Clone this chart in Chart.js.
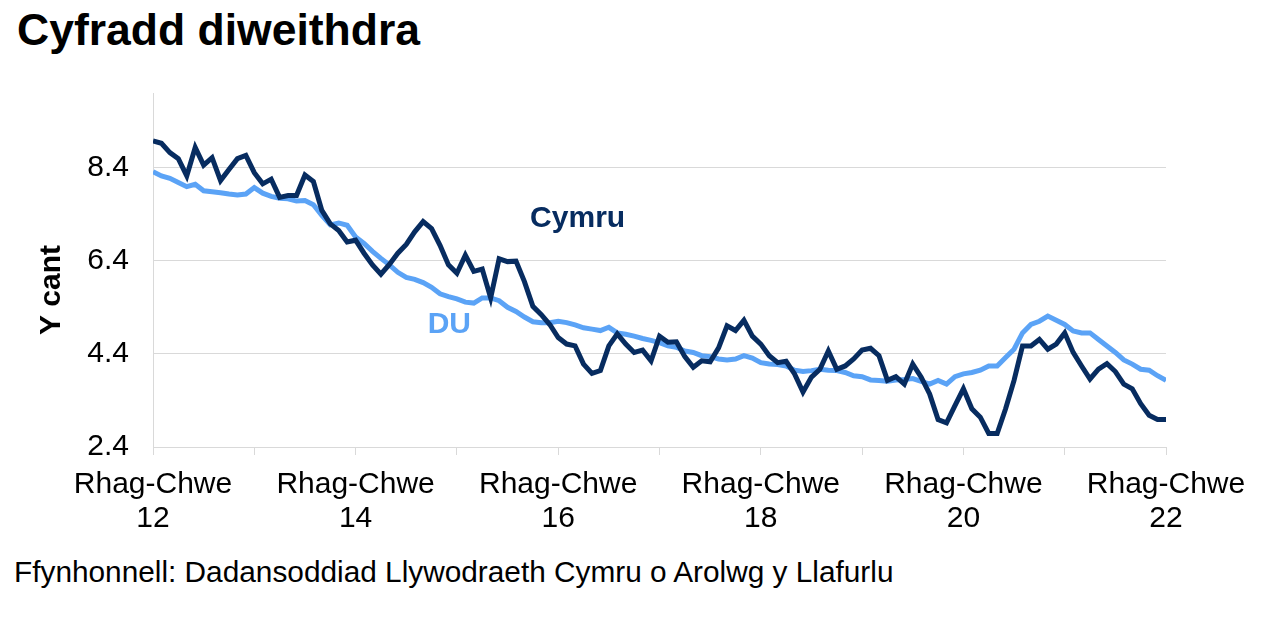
<!DOCTYPE html>
<html>
<head>
<meta charset="utf-8">
<script src="https://cdn.jsdelivr.net/npm/chart.js@4"></script>
<style>
    body { margin: 0; background: #ffffff; width: 1262px; height: 617px; overflow: hidden; position: relative; font-family: "Liberation Sans", Arial, sans-serif; }
    #title { position: absolute; left: 17px; top: 8px; font-size: 44.5px; line-height: 44px; font-weight: bold; color: #000; }
    #source { position: absolute; left: 14px; top: 557px; font-size: 29.8px; line-height: 29px; color: #000; }
    #chart { position: absolute; left: 0; top: 51px; }
</style>
</head>
<body>
<div id="title">Cyfradd diweithdra</div>
<canvas id="chart" width="1262" height="499"></canvas>
<div id="source">Ffynhonnell: Dadansoddiad Llywodraeth Cymru o Arolwg y Llafurlu</div>

<script>
// Rolling 3-month periods, Rhag-Chwe 12 .. Rhag-Chwe 22 (121 points)
const periodName = 'Rhag-Chwe';
const yearLabels = ['12', '14', '16', '18', '20', '22'];
const yTicks = [2.4, 4.4, 6.4, 8.4];

// Unemployment rate, Wales
const cymru = [
    8.97, 8.92, 8.72, 8.59, 8.22, 8.83, 8.45, 8.61, 8.12, 8.36, 8.59, 8.66,
    8.29, 8.05, 8.15, 7.76, 7.80, 7.80, 8.24, 8.10, 7.48, 7.19, 7.05, 6.80,
    6.84, 6.56, 6.31, 6.11, 6.32, 6.56, 6.75, 7.02, 7.24, 7.09, 6.73, 6.31,
    6.13, 6.52, 6.17, 6.22, 5.60, 6.44, 6.38, 6.39, 5.95, 5.42, 5.24, 5.03,
    4.75, 4.61, 4.57, 4.18, 3.98, 4.04, 4.57, 4.83, 4.61, 4.43, 4.48, 4.25,
    4.78, 4.65, 4.66, 4.34, 4.11, 4.25, 4.23, 4.53, 5.00, 4.90, 5.12, 4.78,
    4.61, 4.36, 4.21, 4.24, 3.97, 3.58, 3.90, 4.07, 4.46, 4.07, 4.14, 4.29,
    4.48, 4.52, 4.36, 3.83, 3.91, 3.75, 4.18, 3.90, 3.54, 2.99, 2.92, 3.29,
    3.65, 3.22, 3.04, 2.69, 2.69, 3.22, 3.83, 4.57, 4.57, 4.71, 4.50, 4.61,
    4.85, 4.43, 4.14, 3.86, 4.07, 4.19, 4.02, 3.75, 3.65, 3.33, 3.08, 2.99,
    2.99
];

// Unemployment rate, UK
const du = [
    8.31, 8.22, 8.17, 8.08, 7.99, 8.04, 7.90, 7.88, 7.86, 7.83, 7.81, 7.83,
    7.97, 7.85, 7.78, 7.74, 7.73, 7.68, 7.69, 7.60, 7.37, 7.17, 7.21, 7.16,
    6.91, 6.77, 6.60, 6.45, 6.31, 6.15, 6.04, 6.00, 5.93, 5.83, 5.69, 5.63,
    5.58, 5.51, 5.49, 5.60, 5.60, 5.54, 5.40, 5.31, 5.19, 5.09, 5.07, 5.07,
    5.10, 5.07, 5.02, 4.96, 4.93, 4.90, 4.97, 4.85, 4.82, 4.78, 4.73, 4.69,
    4.64, 4.57, 4.54, 4.46, 4.43, 4.36, 4.34, 4.29, 4.27, 4.29, 4.36, 4.31,
    4.21, 4.18, 4.17, 4.14, 4.05, 4.02, 4.04, 4.07, 4.05, 4.04, 4.00, 3.93,
    3.91, 3.84, 3.83, 3.81, 3.84, 3.85, 3.87, 3.81, 3.75, 3.83, 3.75, 3.91,
    3.97, 4.00, 4.05, 4.14, 4.14, 4.32, 4.50, 4.85, 5.03, 5.10, 5.21, 5.12,
    5.03, 4.89, 4.85, 4.85, 4.71, 4.57, 4.43, 4.27, 4.18, 4.07, 4.05, 3.93,
    3.83
];

const cymruColor = '#072C60';
const duColor = '#5BA3F6';
const gridColor = '#D9D9D9';
const fontFamily = '"Liberation Sans", Arial, sans-serif';

// Series labels placed on the plot (x = period index, y = value)
const seriesLabels = [
    { text: 'Cymru', x: 50.3, y: 7.30, color: cymruColor },
    { text: 'DU', x: 35.1, y: 5.03, color: duColor }
];

// Draws the rotated y-axis title and the in-chart series labels
const extraText = {
    id: 'extraText',
    afterDraw(chart) {
        const ctx = chart.ctx;
        const xs = chart.scales.x;
        const ys = chart.scales.y;
        ctx.save();
        ctx.font = 'bold 30px ' + fontFamily;
        ctx.textAlign = 'center';
        ctx.textBaseline = 'middle';
        seriesLabels.forEach(l => {
            ctx.fillStyle = l.color;
            ctx.fillText(l.text, xs.getPixelForValue(l.x), ys.getPixelForValue(l.y));
        });
        ctx.translate(52, 239);
        ctx.rotate(-Math.PI / 2);
        ctx.fillStyle = '#000';
        ctx.fillText('Y cant', 0, 0);
        ctx.restore();
    }
};

new Chart(document.getElementById('chart'), {
    type: 'line',
    data: {
        datasets: [
            {
                label: 'Cymru',
                data: cymru.map((v, i) => ({ x: i, y: v })),
                borderColor: cymruColor,
                borderWidth: 5,
                pointRadius: 0,
                tension: 0,
                fill: false
            },
            {
                label: 'DU',
                data: du.map((v, i) => ({ x: i, y: v })),
                borderColor: duColor,
                borderWidth: 5,
                pointRadius: 0,
                tension: 0,
                fill: false
            }
        ]
    },
    options: {
        responsive: false,
        animation: false,
        layout: { padding: { top: 10, right: 96, left: 0, bottom: 0 } },
        plugins: {
            legend: { display: false },
            tooltip: { enabled: false }
        },
        scales: {
            x: {
                type: 'linear',
                min: 0,
                max: cymru.length - 1,
                afterFit: (scale) => { scale.height = 103; },
                ticks: {
                    stepSize: 12,
                    autoSkip: false,
                    maxRotation: 0,
                    padding: 13,
                    color: '#000',
                    font: { family: fontFamily, size: 30, lineHeight: 1.13 },
                    callback: (v) => (v % 24 === 0) ? [periodName, yearLabels[v / 24]] : ''
                },
                grid: { drawOnChartArea: false, drawTicks: true, tickLength: 8, color: gridColor },
                border: { color: gridColor, width: 1 }
            },
            y: {
                min: 2.4,
                max: 10,
                afterFit: (scale) => { scale.width = 153; },
                afterBuildTicks: (scale) => { scale.ticks = yTicks.map(v => ({ value: v })); },
                ticks: {
                    padding: 24,
                    color: '#000',
                    font: { family: fontFamily, size: 30 },
                    callback: (v) => v.toFixed(1)
                },
                grid: { color: gridColor, drawTicks: false },
                border: { color: gridColor, width: 1 }
            }
        }
    },
    plugins: [extraText]
});
</script>
</body>
</html>
